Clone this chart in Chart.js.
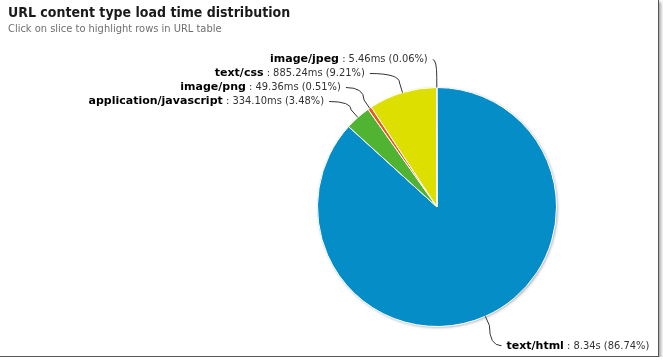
<!DOCTYPE html>
<html>
<head>
<meta charset="utf-8">
<script src="https://cdn.jsdelivr.net/npm/chart.js@4.4.1/dist/chart.umd.min.js"></script>
<style>
  html, body { margin: 0; padding: 0; background: #fff; }
  #frame { width: 659px; height: 357px; box-sizing: border-box; border-right: 1px solid #555; border-bottom: 1px solid #555; box-shadow: 2px 2px 3px rgba(0,0,0,0.35); }
  #box { width: 658px; height: 356px; position: relative; }
</style>
</head>
<body>
<div id="frame"><div id="box"><canvas id="typeChart"></canvas></div></div>
<script>
const contentTypes = ['text/html', 'application/javascript', 'image/png', 'text/css', 'image/jpeg'];
const loadTimesMs = [8337, 334.10, 49.36, 885.24, 5.46];
const sliceColors = ['#058DC7', '#50B432', '#ED561B', '#DDDF00', '#24CBE5'];

const total = loadTimesMs.reduce((a, b) => a + b, 0);

function fmtTime(ms) {
    return ms >= 1000 ? (ms / 1000).toFixed(2) + 's' : ms.toFixed(2) + 'ms';
}

Chart.defaults.font.family = "'DejaVu Sans Condensed', 'DejaVu Sans', sans-serif";

const NAME_FONT = "bold 11px 'DejaVu Sans'";
const REST_FONT = "11px 'DejaVu Sans Condensed', 'DejaVu Sans'";

// pie sits right of centre, title stays top-left
const sliceLabels = {
    id: 'sliceLabels',
    afterLayout(chart) {
        const a = chart.chartArea;
        a.left = 317; a.right = 557; a.top = 87; a.bottom = 327;
        a.width = 240; a.height = 240;
    },
    beforeDatasetsDraw(chart) {
        const arc = chart.getDatasetMeta(0).data[0];
        if (!arc) return;
        const ctx = chart.ctx;
        ctx.save();
        ctx.shadowColor = 'rgba(0,0,0,0.35)';
        ctx.shadowBlur = 3;
        ctx.shadowOffsetX = 1;
        ctx.shadowOffsetY = 1;
        ctx.beginPath();
        ctx.arc(arc.x, arc.y, arc.outerRadius, 0, Math.PI * 2);
        ctx.fillStyle = '#fff';
        ctx.fill();
        ctx.restore();
    },
    afterDatasetsDraw(chart) {
        const ctx = chart.ctx;
        const arcs = chart.getDatasetMeta(0).data;
        const dist = 30, rowH = 14;
        const items = arcs.map((arc, i) => {
            const p = arc.getProps(['x', 'y', 'outerRadius', 'startAngle', 'endAngle'], true);
            const mid = (p.startAngle + p.endAngle) / 2;
            return { i, cx: p.x, cy: p.y, r: p.outerRadius, mid,
                left: Math.cos(mid) < 0,
                y: p.y + (p.outerRadius + dist) * Math.sin(mid) };
        });
        // push overlapping labels down
        [true, false].forEach(side => {
            const grp = items.filter(it => it.left === side).sort((a, b) => a.y - b.y);
            for (let k = 1; k < grp.length; k++) grp[k].y = Math.max(grp[k].y, grp[k - 1].y + rowH);
        });

        ctx.save();
        items.forEach(it => {
            const R = it.r + dist;
            const dy = Math.min(Math.abs(it.y - it.cy), R);
            const gx = Math.sqrt(R * R - dy * dy);
            const ly = it.y + 2;
            const sx = it.left ? it.cx - gx - 4 : it.cx + gx + 4;
            const ex = it.cx + it.r * Math.cos(it.mid), ey = it.cy + it.r * Math.sin(it.mid);
            const bx = it.cx + (it.r + 10) * Math.cos(it.mid), by = it.cy + (it.r + 10) * Math.sin(it.mid);

            ctx.strokeStyle = '#333';
            ctx.lineWidth = 1;
            ctx.beginPath();
            ctx.moveTo(sx, ly);
            ctx.quadraticCurveTo(bx, ly, bx, by);
            ctx.lineTo(ex, ey);
            ctx.stroke();

            const name = contentTypes[it.i];
            const rest = ' : ' + fmtTime(loadTimesMs[it.i]) + ' (' + (loadTimesMs[it.i] / total * 100).toFixed(2) + '%)';
            ctx.textBaseline = 'middle';
            ctx.textAlign = 'left';
            ctx.font = NAME_FONT;
            const wName = ctx.measureText(name).width;
            ctx.font = REST_FONT;
            const wRest = ctx.measureText(rest).width;
            const tx = it.left ? sx - 5 - wName - wRest : sx + 5;
            ctx.font = NAME_FONT;
            ctx.fillStyle = '#000';
            ctx.fillText(name, tx, ly);
            ctx.font = REST_FONT;
            ctx.fillStyle = '#333';
            ctx.fillText(rest, tx + wName, ly);
        });
        ctx.restore();
    }
};

new Chart(document.getElementById('typeChart'), {
    type: 'pie',
    data: {
        labels: contentTypes,
        datasets: [{
            data: loadTimesMs,
            backgroundColor: sliceColors,
            borderColor: '#fff',
            borderWidth: 1
        }]
    },
    options: {
        responsive: true,
        maintainAspectRatio: false,
        animation: false,
        layout: { padding: { left: 8, top: 0 } },
        plugins: {
            legend: { display: false },
            title: {
                display: true, text: 'URL content type load time distribution', align: 'start',
                color: '#1a1a1a', font: { size: 14, weight: 'bold' }, padding: { top: 5, bottom: 1 }
            },
            subtitle: {
                display: true, text: 'Click on slice to highlight rows in URL table', align: 'start',
                color: '#6f6f6f', font: { size: 11 }, padding: { top: 0, bottom: 4 }
            }
        }
    },
    plugins: [sliceLabels]
});
</script>
</body>
</html>
